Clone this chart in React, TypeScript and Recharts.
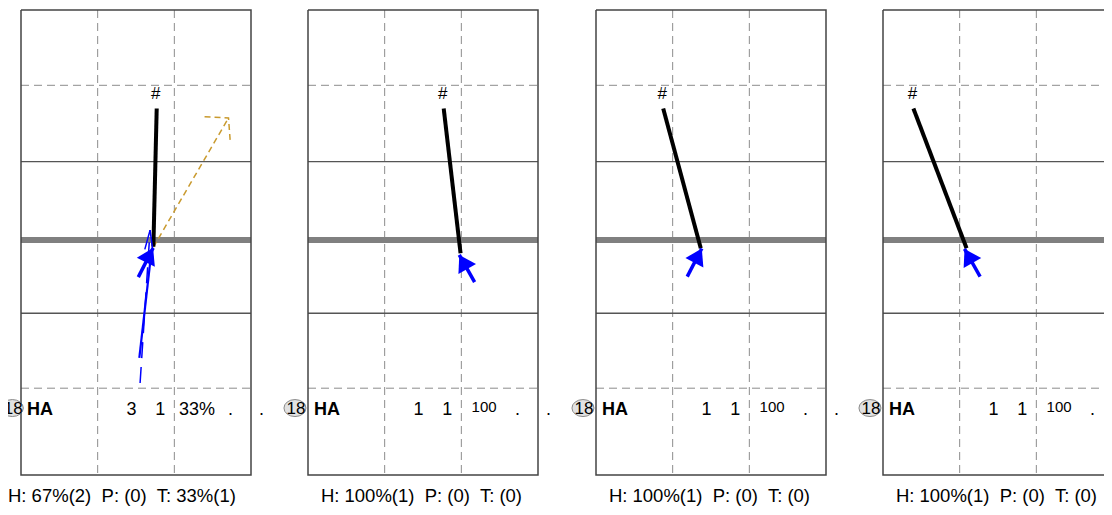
import React from "react";
import { ComposedChart, Line, XAxis, YAxis, ReferenceDot } from "recharts";

// court in metres-ish units: 9 wide, 18 long, top = 0
const COURT_W = 9;
const COURT_L = 18;
const netY = 8.9;
const attackLineY = [5.87, 11.74];
const backDashY = [2.915, 14.64];
const laneX = [3, 6];

// stat row + footer per panel
const playerNo = ["18", "18", "18", "18"];
const playerCode = ["HA", "HA", "HA", "HA"];
const attempts = ["3", "1", "1", "1"];
const kills = ["1", "1", "1", "1"];
const killPct = ["33%", "100", "100", "100"];
const footers = [
  "H: 67%(2)  P: (0)  T: 33%(1)",
  "H: 100%(1)  P: (0)  T: (0)",
  "H: 100%(1)  P: (0)  T: (0)",
  "H: 100%(1)  P: (0)  T: (0)",
];

// attack (black) and set (blue) per panel
const attackFrom = [
  { x: 5.31, y: 3.81 },
  { x: 5.31, y: 3.81 },
  { x: 2.63, y: 3.81 },
  { x: 1.19, y: 3.81 },
];
const attackTo = [
  { x: 5.18, y: 9.16 },
  { x: 5.97, y: 9.42 },
  { x: 4.1, y: 9.22 },
  { x: 3.27, y: 9.22 },
];
const setFrom = [
  { x: 4.59, y: 10.34 },
  { x: 6.52, y: 10.53 },
  { x: 3.57, y: 10.32 },
  { x: 3.8, y: 10.32 },
];
const setTo = [
  { x: 5.17, y: 9.21 },
  { x: 5.92, y: 9.48 },
  { x: 4.14, y: 9.23 },
  { x: 3.19, y: 9.25 },
];

// extra traces, first panel only
const passLine = [
  { x: 4.63, y: 13.47 },
  { x: 5.11, y: 9.29 },
];
const passDashed = [
  { x: 4.66, y: 14.44 },
  { x: 5.05, y: 8.52 },
];
const coverDashed = [
  { x: 5.18, y: 9.18 },
  { x: 8.12, y: 4.18 },
];

// where the stat row text sits (court units)
const rowY = 15.66;
const badgeX = [-0.34, -0.51, -0.51, -0.51];
const colX = { code: 0.235, att: 4.52, kill: 5.65, pct: 6.89, dotA: 8.2, dotB: 9.41 };
const footerX = [3.95, 4.44, 4.44, 4.44];
const footerY = 19.04;

const PANEL_STEP = 287.33;
const FIRST_LEFT = 21;
const FONT = "Arial, 'Liberation Sans', sans-serif";

type HeadOpts = {
  color: string;
  len: number;
  left: number;
  right: number;
  fill: boolean;
  dash?: string;
  width?: number;
};

const headDot = (o: HeadOpts) => (p: any) => {
  const pts = p.points;
  if (!pts || p.index !== pts.length - 1) return <g key={p.key} />;
  const prev = pts[p.index - 1];
  const back = Math.atan2(prev.y - p.cy, prev.x - p.cx);
  const ax = p.cx + o.len * Math.cos(back + o.left);
  const ay = p.cy + o.len * Math.sin(back + o.left);
  const bx = p.cx + o.len * Math.cos(back - o.right);
  const by = p.cy + o.len * Math.sin(back - o.right);
  if (o.fill) {
    return <polygon key={p.key} points={`${p.cx},${p.cy} ${ax},${ay} ${bx},${by}`} fill={o.color} stroke="none" />;
  }
  return (
    <polyline
      key={p.key}
      points={`${ax},${ay} ${p.cx},${p.cy} ${bx},${by}`}
      fill="none"
      stroke={o.color}
      strokeWidth={o.width ?? 1.5}
      strokeDasharray={o.dash}
    />
  );
};

const hashDot = (p: any) => {
  if (p.index !== 0) return <g key={p.key} />;
  return (
    <text key={p.key} x={p.cx - 1} y={p.cy - 9} textAnchor="middle" fontSize={17} fontFamily={FONT} fill="#000">
      #
    </text>
  );
};

function TextAt(props: any) {
  const { cx, cy, text, anchor, size, bold } = props;
  return (
    <text
      x={cx}
      y={cy}
      textAnchor={anchor}
      fontSize={size}
      fontWeight={bold ? "bold" : "normal"}
      fontFamily={FONT}
      fill="#000"
      style={{ whiteSpace: "pre" }}
    >
      {text}
    </text>
  );
}

function Badge(props: any) {
  const { cx, cy, text } = props;
  return (
    <g>
      <ellipse cx={cx} cy={cy - 6.5} rx={11} ry={8.5} fill="#e2e2e2" stroke="#8a8a8a" strokeWidth={1} />
      <text x={cx + 1} y={cy - 0.5} textAnchor="middle" fontSize={17} fontFamily={FONT} fill="#000">
        {text}
      </text>
    </g>
  );
}

const seg = (a: { x: number; y: number }, b: { x: number; y: number }) => [a, b];

function Panel({ i }: { i: number }) {
  const left = FIRST_LEFT + i * PANEL_STEP - 30;
  const common = { dataKey: "y", isAnimationActive: false, dot: false as const };
  return (
    <div style={{ position: "absolute", left, top: 0 }}>
      <ComposedChart width={290} height={515} margin={{ top: 10, right: 30, bottom: 40, left: 30 }}>
        <XAxis type="number" dataKey="x" domain={[0, COURT_W]} hide />
        <YAxis type="number" dataKey="y" domain={[0, COURT_L]} reversed hide />

        {backDashY.map((y) => (
          <Line key={`bd${y}`} {...common} data={seg({ x: 0, y }, { x: COURT_W, y })} stroke="#8c8c8c" strokeWidth={1} strokeDasharray="8 5" />
        ))}
        {laneX.map((x) => (
          <Line key={`ln${x}`} {...common} data={seg({ x, y: 0 }, { x, y: COURT_L })} stroke="#8c8c8c" strokeWidth={1} strokeDasharray="8 5" />
        ))}
        {attackLineY.map((y) => (
          <Line key={`al${y}`} {...common} data={seg({ x: 0, y }, { x: COURT_W, y })} stroke="#555" strokeWidth={1.4} />
        ))}
        <Line {...common} data={seg({ x: 0, y: netY }, { x: COURT_W, y: netY })} stroke="#808080" strokeWidth={6} />
        <Line
          {...common}
          data={[
            { x: 0, y: 0 },
            { x: COURT_W, y: 0 },
            { x: COURT_W, y: COURT_L },
            { x: 0, y: COURT_L },
            { x: 0, y: 0 },
          ]}
          stroke="#444"
          strokeWidth={1.5}
        />

        {i === 0 && (
          <Line
            {...common}
            data={coverDashed}
            stroke="#c99a2e"
            strokeWidth={1.5}
            strokeDasharray="6 4"
            dot={headDot({ color: "#c99a2e", len: 24, left: 1.1, right: 0.6, fill: false, dash: "6 4" })}
          />
        )}
        {i === 0 && (
          <Line
            {...common}
            data={passDashed}
            stroke="#0000ff"
            strokeWidth={1.5}
            strokeDasharray="16 9"
            dot={headDot({ color: "#0000ff", len: 20, left: 0.2, right: 0.2, fill: false, width: 1.5 })}
          />
        )}
        {i === 0 && <Line {...common} data={passLine} stroke="#0000ff" strokeWidth={2.2} />}

        <Line {...common} data={seg(attackFrom[i], attackTo[i])} stroke="#000" strokeWidth={4} dot={hashDot} />
        <Line
          {...common}
          data={seg(setFrom[i], setTo[i])}
          stroke="#0000ff"
          strokeWidth={3.5}
          dot={headDot({ color: "#0000ff", len: 19, left: 0.56, right: 0.56, fill: true })}
        />

        <ReferenceDot x={badgeX[i]} y={rowY} ifOverflow="visible" shape={(p: any) => <Badge {...p} text={playerNo[i]} />} />
        <ReferenceDot x={colX.code} y={rowY} ifOverflow="visible" shape={(p: any) => <TextAt {...p} text={playerCode[i]} anchor="start" size={18} bold />} />
        <ReferenceDot x={colX.att} y={rowY} ifOverflow="visible" shape={(p: any) => <TextAt {...p} text={attempts[i]} anchor="end" size={18} />} />
        <ReferenceDot x={colX.kill} y={rowY} ifOverflow="visible" shape={(p: any) => <TextAt {...p} text={kills[i]} anchor="end" size={18} />} />
        <ReferenceDot
          x={colX.pct}
          y={rowY}
          ifOverflow="visible"
          shape={(p: any) => (
            <TextAt {...p} cy={killPct[i].endsWith("%") ? p.cy : p.cy - 3} text={killPct[i]} anchor="middle" size={killPct[i].endsWith("%") ? 18 : 15} />
          )}
        />
        <ReferenceDot x={colX.dotA} y={rowY} ifOverflow="visible" shape={(p: any) => <TextAt {...p} text="." anchor="middle" size={18} />} />
        <ReferenceDot x={colX.dotB} y={rowY} ifOverflow="visible" shape={(p: any) => <TextAt {...p} text="." anchor="middle" size={18} />} />
        <ReferenceDot x={footerX[i]} y={footerY} ifOverflow="visible" shape={(p: any) => <TextAt {...p} text={footers[i]} anchor="middle" size={18.5} />} />
      </ComposedChart>
    </div>
  );
}

export default function App() {
  return (
    <div style={{ position: "relative", margin: -8, width: 1112, height: 515, overflow: "hidden", background: "#fff" }}>
      {[0, 1, 2, 3].map((i) => (
        <Panel key={i} i={i} />
      ))}
    </div>
  );
}
